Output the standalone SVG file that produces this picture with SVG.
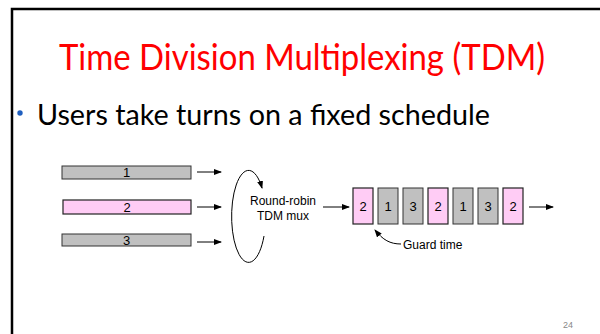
<svg xmlns="http://www.w3.org/2000/svg" width="600" height="334" viewBox="0 0 600 334">
<defs>
<marker id="ah" markerWidth="8" markerHeight="6" refX="7" refY="3" orient="auto" markerUnits="userSpaceOnUse">
<path d="M0,0 L8,3 L0,6 z" fill="#000"/>
</marker>
<style>
.fr{fill:none;stroke:#000;stroke-width:2.5}
.lbl{font-family:"Liberation Sans",Arial,sans-serif;font-size:12px;fill:#000}
.num{font-family:"Liberation Sans",Arial,sans-serif;font-size:13px;fill:#000;text-anchor:middle}
.gray{fill:#c0c0c0;stroke:#333;stroke-width:1}
.pink{fill:#ffccf5;stroke:#222;stroke-width:1.2}
.con{fill:none;stroke:#000;stroke-width:1;marker-end:url(#ah)}
</style>
</defs>
<rect width="600" height="334" fill="#fff"/>
<path class="fr" d="M12,334 L12,9 L600,9"/>
<text x="302" y="70" text-anchor="middle" font-family="Lato,'Open Sans',sans-serif" font-size="36" fill="#ff0000" textLength="486" lengthAdjust="spacingAndGlyphs">Time Division Multiplexing (TDM)</text>
<circle cx="20" cy="113" r="2.7" fill="#1f5fbf"/>
<text x="37" y="125" font-family="Lato,'Open Sans',sans-serif" font-size="29" fill="#000" textLength="453" lengthAdjust="spacingAndGlyphs">Users take turns on a fixed schedule</text>

<g id="user1"><rect class="gray" x="62" y="166" width="129" height="13"/><text class="num" x="126.5" y="177">1</text></g>
<g id="user2"><rect class="pink" x="63" y="200" width="128" height="14"/><text class="num" x="127" y="212">2</text></g>
<g id="user3"><rect class="gray" x="62" y="234" width="129" height="12"/><text class="num" x="126.5" y="245">3</text></g>

<g id="mux">
<text class="lbl" x="283" y="205" text-anchor="middle">Round-robin</text>
<text class="lbl" x="283" y="220" text-anchor="middle">TDM mux</text>
</g>

<g id="slots">
<g id="s1"><rect class="pink" x="353" y="188" width="20" height="36"/><text class="num" x="363" y="211">2</text></g>
<g id="s2"><rect class="gray" x="378" y="188" width="20" height="36"/><text class="num" x="388" y="211">1</text></g>
<g id="s3"><rect class="gray" x="403" y="188" width="20" height="36"/><text class="num" x="413" y="211">3</text></g>
<g id="s4"><rect class="pink" x="428" y="188" width="20" height="36"/><text class="num" x="438" y="211">2</text></g>
<g id="s5"><rect class="gray" x="453" y="188" width="20" height="36"/><text class="num" x="463" y="211">1</text></g>
<g id="s6"><rect class="gray" x="478" y="188" width="20" height="36"/><text class="num" x="488" y="211">3</text></g>
<g id="s7"><rect class="pink" x="503" y="188" width="20" height="36"/><text class="num" x="513" y="211">2</text></g>
</g>

<g id="guard"><text class="lbl" x="403" y="249">Guard time</text></g>

<g id="connectors">
<path class="con" d="M197,172 L221,172"/>
<path class="con" d="M197,207 L221,207"/>
<path class="con" d="M197,242 L221,242"/>
<path class="con" d="M323,207 L349,207"/>
<path class="con" d="M529,207 L553,207"/>
<path class="con" d="M264,236 A17 46 0 1 1 262,188"/>
<path class="con" d="M401,244 C390,244 383,240 375,230"/>
</g>
<text x="568" y="328" font-family="'Liberation Sans',Arial,sans-serif" font-size="9" fill="#888" text-anchor="middle">24</text>
</svg>
